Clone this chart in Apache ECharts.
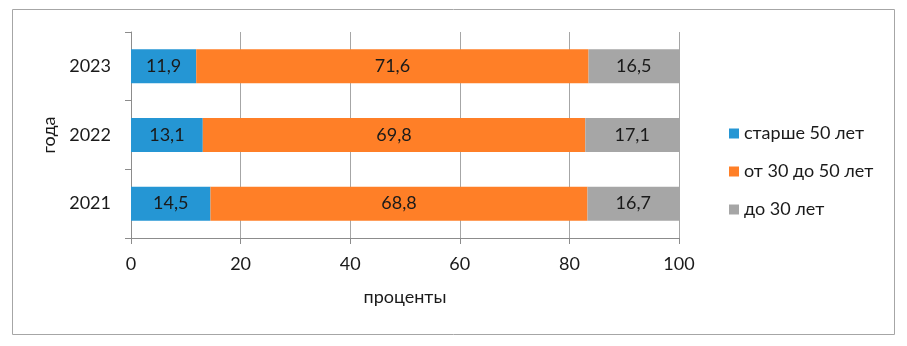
<!DOCTYPE html>
<html><head><meta charset="utf-8">
<script src="https://cdn.jsdelivr.net/npm/echarts@6/dist/echarts.min.js"></script>
<style>html,body{margin:0;padding:0;background:#fff}#c{width:907px;height:346px}</style>
</head><body><div id="c"></div>
<script>
var years = ['2021', '2022', '2023'];
var over50 = [14.5, 13.1, 11.9];
var from30to50 = [68.8, 69.8, 71.6];
var under30 = [16.7, 17.1, 16.5];
var seriesNames = ['старше 50 лет', 'от 30 до 50 лет', 'до 30 лет'];
var xTicks = [0, 20, 40, 60, 80, 100];
var xName = 'проценты';
var yName = 'года';

var font = 'Lato, "Open Sans", sans-serif';
var fs = 18;
var chart = echarts.init(document.getElementById('c'));
function fmt(p){ return String(p.value).replace('.', ','); }
function mk(name, data, color){
  return {name:name, type:'bar', stack:'s', data:data, barWidth:34,
    itemStyle:{color:color},
    label:{show:true, position:'inside', formatter:fmt, color:'#1a1a1a', fontSize:fs, fontFamily:font}};
}
chart.setOption({
  animation:false,
  textStyle:{fontFamily:font},
  graphic:[{type:'rect', shape:{x:12.5, y:9.5, width:882, height:325}, style:{fill:'none', stroke:'#a6a6a6', lineWidth:1}}],
  grid:{left:131, right:228, top:32, bottom:108},
  legend:{orient:'vertical', left:724, top:119, itemWidth:10, itemHeight:10, itemGap:19,
    icon:'rect', itemTextGap:7, textStyle:{fontSize:fs, color:'#1a1a1a', fontFamily:font, lineHeight:19},
    data:seriesNames},
  xAxis:{type:'value', min:xTicks[0], max:xTicks[xTicks.length-1], interval:20,
    name:xName, nameLocation:'middle', nameGap:50, nameTextStyle:{fontSize:fs, color:'#1a1a1a'},
    axisLine:{show:true, lineStyle:{color:'#8c8c8c'}},
    axisTick:{show:true, length:6, lineStyle:{color:'#8c8c8c'}},
    axisLabel:{fontSize:fs, color:'#1a1a1a', margin:17},
    splitLine:{show:true, lineStyle:{color:'#a6a6a6'}}},
  yAxis:{type:'category', data:years,
    name:yName, nameLocation:'middle', nameGap:69, nameRotate:90, nameTextStyle:{fontSize:fs, color:'#1a1a1a'},
    axisLine:{show:true, lineStyle:{color:'#8c8c8c'}},
    axisTick:{show:true, length:6, lineStyle:{color:'#8c8c8c'}},
    axisLabel:{fontSize:fs, color:'#1a1a1a', margin:20}},
  series:[mk(seriesNames[0], over50, '#2596d4'), mk(seriesNames[1], from30to50, '#ff7f27'), mk(seriesNames[2], under30, '#a6a6a6')]
});
</script></body></html>
